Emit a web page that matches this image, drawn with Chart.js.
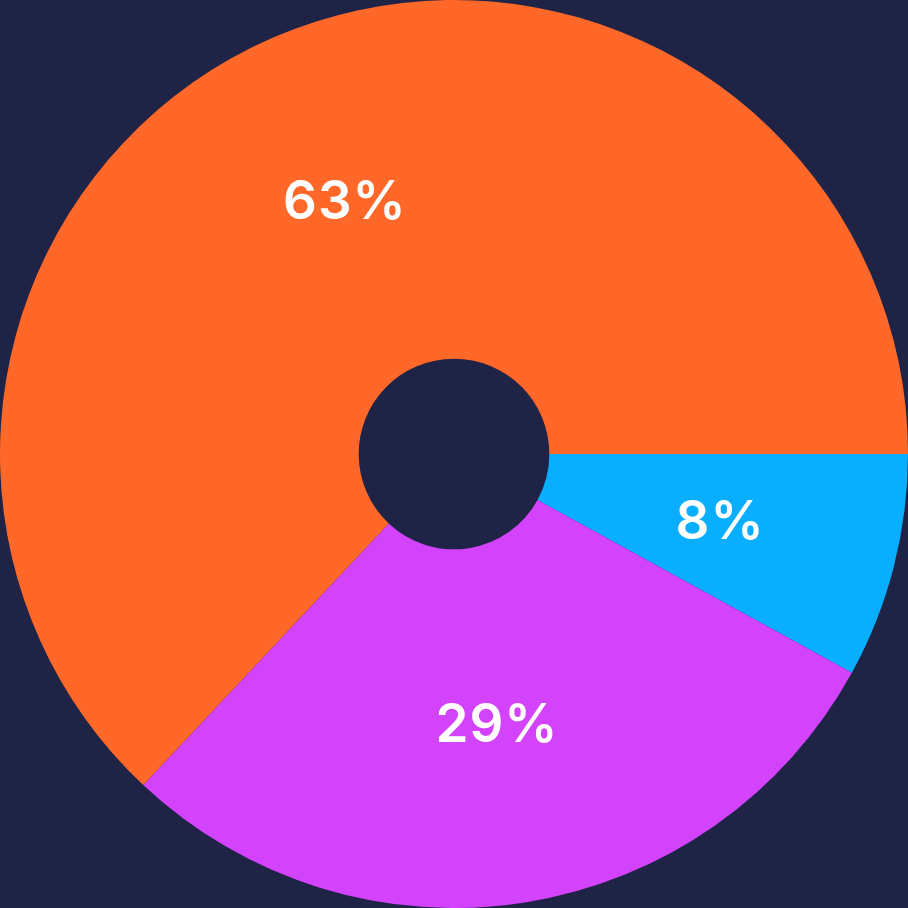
<!DOCTYPE html>
<html>
<head>
<meta charset="utf-8">
<script src="https://cdn.jsdelivr.net/npm/chart.js@4"></script>
<style>
  html, body { margin: 0; padding: 0; background: #1f2447; }
  #wrap { width: 908px; height: 908px; }
</style>
</head>
<body>
<div id="wrap"><canvas id="chart"></canvas></div>
<script>
// slice data, clockwise from 3 o'clock
const labels = ['Blue', 'Purple', 'Orange'];
const shares = [8, 29, 63];
const colors = ['#0aaeff', '#d343fb', '#ff6828'];

// draws the percentage at the centre of each arc
const percentLabels = {
    id: 'percentLabels',
    afterDatasetsDraw(chart) {
        const ctx = chart.ctx;
        const meta = chart.getDatasetMeta(0);
        ctx.save();
        ctx.fillStyle = '#ffffff';
        ctx.font = '600 53px Inter';
        ctx.textAlign = 'center';
        ctx.textBaseline = 'middle';
        if ('letterSpacing' in ctx) ctx.letterSpacing = '1px';
        meta.data.forEach((arc, i) => {
            const pos = arc.tooltipPosition();
            ctx.fillText(shares[i] + '%', pos.x, pos.y + 1);
        });
        ctx.restore();
    }
};

new Chart(document.getElementById('chart'), {
    type: 'doughnut',
    data: {
        labels: labels,
        datasets: [{
            data: shares,
            backgroundColor: colors,
            borderWidth: 0
        }]
    },
    options: {
        responsive: true,
        maintainAspectRatio: false,
        animation: false,
        rotation: 90,
        cutout: '21%',
        layout: { padding: 0 },
        plugins: {
            legend: { display: false },
            tooltip: { enabled: false }
        }
    },
    plugins: [percentLabels]
});
</script>
</body>
</html>
